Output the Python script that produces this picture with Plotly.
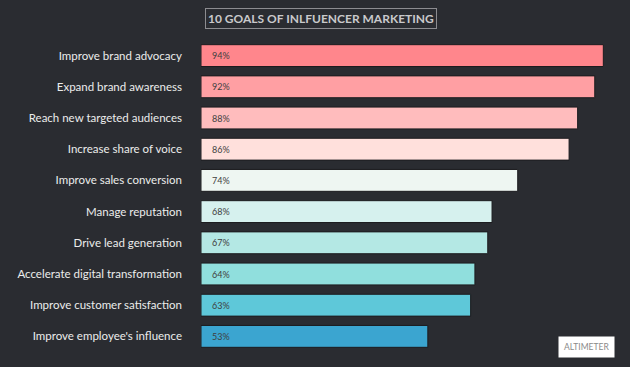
import plotly.graph_objects as go

categories = [
    "Improve brand advocacy",
    "Expand brand awareness",
    "Reach new targeted audiences",
    "Increase share of voice",
    "Improve sales conversion",
    "Manage reputation",
    "Drive lead generation",
    "Accelerate digital transformation",
    "Improve customer satisfaction",
    "Improve employee's influence",
]
values = [94, 92, 88, 86, 74, 68, 67, 64, 63, 53]
colors = ["#ff868c", "#ff9fa3", "#ffbcbd", "#ffe0dc", "#eef6f2",
          "#d6f1ee", "#b4e8e4", "#90dfdd", "#5ec8d9", "#3ba5d0"]
title_text = "10 GOALS OF INLFUENCER MARKETING"
source_text = "ALTIMETER"

BG = "#2a2c31"
W, H = 630, 367
ML, MR, MT, MB = 201, 1, 40, 15

fig = go.Figure()
fig.add_trace(go.Bar(
    x=values, y=categories, orientation="h",
    marker=dict(color=colors, line=dict(color="#1c1c1f", width=1)),
    hoverinfo="skip",
))

for c, v in zip(categories, values):
    fig.add_annotation(x=0, y=c, xref="x", yref="y", text=f"{v}%",
                       showarrow=False, xanchor="left", xshift=9,
                       font=dict(family="Lato", size=9, color="#404040"))

fig.add_annotation(xref="paper", yref="paper", x=(321 - ML) / (W - ML - MR),
                   y=(H - MB - 18.5) / (H - MT - MB),
                   text=f"<b>{title_text}</b>", showarrow=False,
                   xanchor="center", yanchor="middle",
                   font=dict(family="Lato", size=12, color="#c9c9cb"),
                   bordercolor="#8c8c90", borderwidth=1, borderpad=2)

fig.add_annotation(xref="paper", yref="paper", x=(586 - ML) / (W - ML - MR),
                   y=(H - MB - 346.5) / (H - MT - MB),
                   text=source_text, showarrow=False,
                   xanchor="center", yanchor="middle",
                   font=dict(family="Lato", size=8.5, color="#8a8a8a"),
                   bgcolor="#ffffff", borderpad=5)

fig.update_layout(
    width=W, height=H,
    margin=dict(l=ML, r=MR, t=MT, b=MB),
    paper_bgcolor=BG, plot_bgcolor=BG,
    bargap=0.30,
    showlegend=False,
    xaxis=dict(range=[0, 100], visible=False, fixedrange=True),
    yaxis=dict(autorange="reversed", showgrid=False, zeroline=False,
               showline=False, ticks="", ticklabelstandoff=18,
               fixedrange=True,
               tickfont=dict(family="Lato", size=11.5, color="#ececec")),
)

fig.write_html("out.html",
               config={"displayModeBar": False, "staticPlot": True},
               post_script="document.body.style.margin='0';"
                           "document.body.style.background='" + BG + "';")
